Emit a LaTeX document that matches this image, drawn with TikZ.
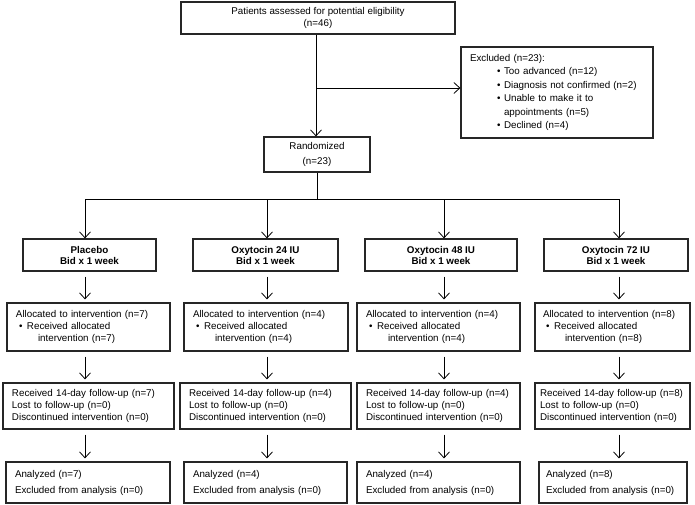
\documentclass[tikz,border=0pt]{standalone}
\usepackage{fontspec}
\setmainfont{Liberation Sans}
\usetikzlibrary{arrows.meta}
\begin{document}
\begin{tikzpicture}[x=1pt,y=-1pt,
  every node/.style={font=\fontsize{9.8}{11.7}\selectfont},
  box/.style={draw=black!85, line width=1.2pt, inner sep=0pt, align=center},
  lbox/.style={draw=black!85, line width=1.2pt, inner ysep=0pt, inner xsep=9pt, text width=#1, align=left},
  grp/.style={box, font=\fontsize{9.8}{11}\selectfont\bfseries, minimum height=32},
  line/.style={draw=black, line width=0.8pt},
  arr/.style={line, -{Straight Barb[length=6pt,width=11pt]}},
  gap/.style={arr, shorten <=5pt, shorten >=3pt}
]
\useasboundingbox (0,0) rectangle (695,505);
\fill[white] (0,0) rectangle (695,505);

% top part
\node[box, minimum width=274, minimum height=32, font=\fontsize{9.8}{12.3}\selectfont] (top) at (318,18)
  {Patients assessed for potential eligibility\\(n=46)};
\node[lbox=174, minimum height=91, inner xsep=9pt, font=\fontsize{9.8}{13.4}\selectfont] (excl) at (557,92.5)
  {Excluded (n=23):\\
   \hspace*{27pt}\makebox[7pt][l]{\textbullet}Too advanced (n=12)\\
   \hspace*{27pt}\makebox[7pt][l]{\textbullet}Diagnosis not confirmed (n=2)\\
   \hspace*{27pt}\makebox[7pt][l]{\textbullet}Unable to make it to\\
   \hspace*{34pt}appointments (n=5)\\
   \hspace*{27pt}\makebox[7pt][l]{\textbullet}Declined (n=4)};
\node[box, minimum width=106, minimum height=35, font=\fontsize{9.8}{15}\selectfont] (rand) at (317,154.5)
  {Randomized\\(n=23)};

\coordinate (sp) at (316,88);
\coordinate (bar) at (317,199);
\coordinate (c1) at (85,199);
\coordinate (c2) at (267,199);
\coordinate (c3) at (444,199);
\coordinate (c4) at (619,199);

% groups
\node[grp, minimum width=133] (g1) at (89.5,255) {Placebo\\Bid x 1 week};
\node[grp, minimum width=145] (g2) at (265.5,255) {Oxytocin 24 IU\\Bid x 1 week};
\node[grp, minimum width=152] (g3) at (441,255) {Oxytocin 48 IU\\Bid x 1 week};
\node[grp, minimum width=144] (g4) at (616,255) {Oxytocin 72 IU\\Bid x 1 week};

% allocated
\node[lbox=145, minimum height=48] (a1) at (88.5,327)
  {Allocated to intervention (n=7)\\\hspace*{3pt}\makebox[8pt][l]{\textbullet}Received allocated\\\hspace*{22pt}intervention (n=7)};
\node[lbox=146, minimum height=48] (a2) at (266,327)
  {Allocated to intervention (n=4)\\\hspace*{3pt}\makebox[8pt][l]{\textbullet}Received allocated\\\hspace*{22pt}intervention (n=4)};
\node[lbox=145, minimum height=48] (a3) at (438.5,327)
  {Allocated to intervention (n=4)\\\hspace*{3pt}\makebox[8pt][l]{\textbullet}Received allocated\\\hspace*{22pt}intervention (n=4)};
\node[lbox=139, minimum height=48, inner xsep=8pt] (a4) at (612.5,327)
  {Allocated to intervention (n=8)\\\hspace*{3pt}\makebox[8pt][l]{\textbullet}Received allocated\\\hspace*{22pt}intervention (n=8)};

% follow-up
\node[lbox=153, minimum height=46] (f1) at (88.5,406)
  {Received 14-day follow-up (n=7)\\Lost to follow-up (n=0)\\Discontinued intervention (n=0)};
\node[lbox=153, minimum height=46] (f2) at (265.5,406)
  {Received 14-day follow-up (n=4)\\Lost to follow-up (n=0)\\Discontinued intervention (n=0)};
\node[lbox=145, minimum height=46] (f3) at (438.5,406)
  {Received 14-day follow-up (n=4)\\Lost to follow-up (n=0)\\Discontinued intervention (n=0)};
\node[lbox=145, minimum height=46, inner xsep=5pt] (f4) at (612.5,406)
  {Received 14-day follow-up (n=8)\\Lost to follow-up (n=0)\\Discontinued intervention (n=0)};

% analyzed
\node[lbox=146, minimum height=41, font=\fontsize{9.8}{16}\selectfont] (n1) at (88,482.5)
  {Analyzed (n=7)\\Excluded from analysis (n=0)};
\node[lbox=145, minimum height=41, font=\fontsize{9.8}{16}\selectfont] (n2) at (265.5,482.5)
  {Analyzed (n=4)\\Excluded from analysis (n=0)};
\node[lbox=145, minimum height=41, font=\fontsize{9.8}{16}\selectfont] (n3) at (438.5,482.5)
  {Analyzed (n=4)\\Excluded from analysis (n=0)};
\node[lbox=134, minimum height=41, inner xsep=7pt, font=\fontsize{9.8}{16}\selectfont] (n4) at (613,482.5)
  {Analyzed (n=8)\\Excluded from analysis (n=0)};

% connectors
\draw[arr] (top.south -| sp) -- (rand.north -| sp);
\draw[arr] (sp) -- (excl.west |- sp);
\draw[line] (rand.south -| bar) -- (bar);
\draw[line] (c1) -- (c4);
\foreach \i in {1,2,3,4}{
  \draw[arr] (c\i) -- (g\i.north -| c\i);
  \draw[gap] (g\i.south -| c\i) -- (a\i.north -| c\i);
  \draw[gap] (a\i.south -| c\i) -- (f\i.north -| c\i);
  \draw[gap] (f\i.south -| c\i) -- (n\i.north -| c\i);
}
\end{tikzpicture}
\end{document}
